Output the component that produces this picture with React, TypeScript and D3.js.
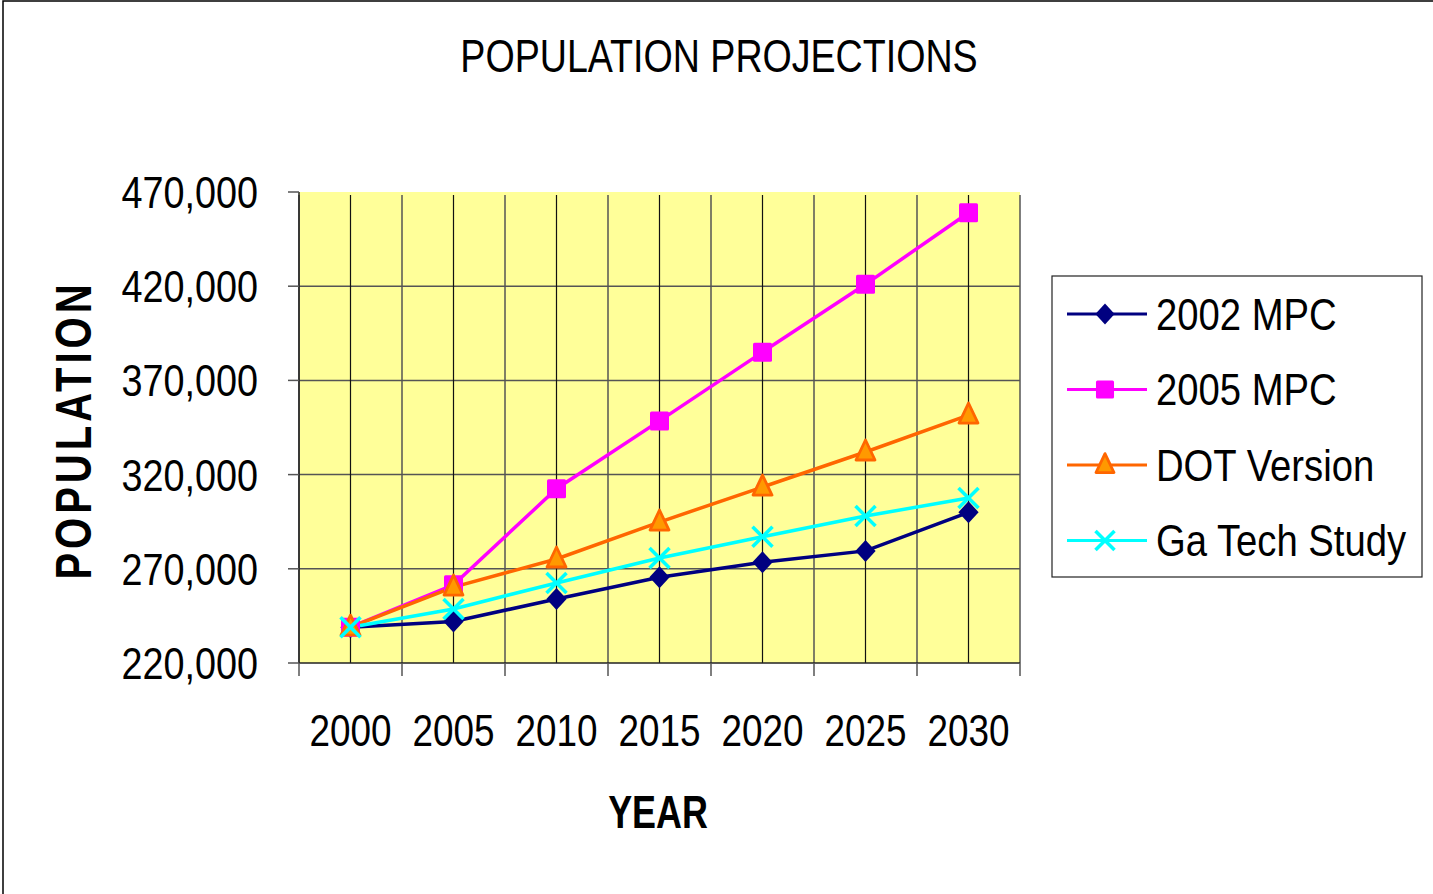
import React from "react";
import * as d3 from "d3";

const years = ["2000", "2005", "2010", "2015", "2020", "2025", "2030"];
const mpc2002 = [239000, 242000, 254000, 265500, 273500, 279500, 300000];
const mpc2005 = [239000, 261500, 312500, 348500, 385000, 421000, 459000];
const dotVersion = [239000, 260300, 275200, 294800, 313400, 332000, 351600];
const gaTech = [239000, 248700, 262500, 275700, 287000, 298000, 307600];
const yTicks = [220000, 270000, 320000, 370000, 420000, 470000];

const seriesNames = ["2002 MPC", "2005 MPC", "DOT Version", "Ga Tech Study"];
const seriesData = [mpc2002, mpc2005, dotVersion, gaTech];
const seriesColors = ["#000080", "#FF00FF", "#FF6600", "#00FFFF"];
const seriesMarkers = ["diamond", "square", "triangle", "x"];

const W = 1433;
const H = 894;
const L = 299, R = 1020, T = 192, B = 663;

function Marker({ type, x, y, k = 1 }: { type: string; x: number; y: number; k?: number }) {
  if (type === "diamond") {
    const s = 11 * k;
    return <path d={`M${x},${y - s}L${x + s * 0.92},${y}L${x},${y + s}L${x - s * 0.92},${y}Z`} fill="#000080" />;
  }
  if (type === "square") {
    const s = 9.5 * k;
    return <rect x={x - s} y={y - s} width={2 * s} height={2 * s} rx={1.5} fill="#FF00FF" />;
  }
  if (type === "triangle") {
    return (
      <path
        d={`M${x},${y - 12 * k}L${x + 9.5 * k},${y + 8 * k}L${x - 9.5 * k},${y + 8 * k}Z`}
        fill="#FF9900"
        stroke="#FF6600"
        strokeWidth={2.8}
        strokeLinejoin="round"
      />
    );
  }
  const s = 10 * k;
  return (
    <g stroke="#00FFFF" strokeWidth={3.5}>
      <line x1={x - s} y1={y - s} x2={x + s} y2={y + s} />
      <line x1={x - s} y1={y + s} x2={x + s} y2={y - s} />
    </g>
  );
}

function sx(cx: number, s: number) {
  return `translate(${cx},0) scale(${s},1) translate(${-cx},0)`;
}

export default function App() {
  const x = d3.scaleBand<string>().domain(years).range([L, R]).paddingInner(0).paddingOuter(0);
  const y = d3.scaleLinear().domain([220000, 470000]).range([B, T]);
  const cx = (d: string) => (x(d) as number) + x.bandwidth() / 2;
  const line = d3
    .line<number>()
    .x((_, i) => cx(years[i]))
    .y((v) => y(v));
  const fmt = d3.format(",");
  const bounds = years.map((d) => x(d) as number).concat([R]);
  const font = "Liberation Sans, Arial, sans-serif";

  return (
    <svg
      width={W}
      height={H}
      style={{ position: "absolute", left: 0, top: 0, display: "block" }}
      fontFamily={font}
    >
      <rect x={0} y={0} width={W} height={H} fill="#fff" />
      <rect x={3} y={1} width={W + 10} height={H + 10} fill="none" stroke="#000" strokeWidth={1.5} />
      <text x={719} y={72} textAnchor="middle" fontSize={47} transform={sx(719, 0.8)}>
        POPULATION PROJECTIONS
      </text>
      <rect x={L} y={T} width={R - L} height={B - T} fill="#FFFF99" />
      {yTicks.slice(1, -1).map((t) => (
        <line key={t} x1={L} x2={R} y1={y(t)} y2={y(t)} stroke="#555" strokeWidth={1.5} />
      ))}
      {bounds.map((b, i) => (
        <line key={"b" + i} x1={b} x2={b} y1={T + 3} y2={B} stroke="#555" strokeWidth={1.5} />
      ))}
      {years.map((d) => (
        <line key={"c" + d} x1={cx(d)} x2={cx(d)} y1={T + 3} y2={B} stroke="#111" strokeWidth={1.2} />
      ))}
      <line x1={L} x2={L} y1={T} y2={B} stroke="#222" strokeWidth={1.5} />
      <line x1={L} x2={R} y1={B} y2={B} stroke="#222" strokeWidth={1.5} />
      {yTicks.map((t) => (
        <g key={"yt" + t}>
          <line x1={L - 11} x2={L} y1={y(t)} y2={y(t)} stroke="#555" strokeWidth={1.5} />
          <text x={258} y={y(t) + 16} textAnchor="end" fontSize={45} transform={sx(258, 0.84)}>
            {fmt(t)}
          </text>
        </g>
      ))}
      {bounds.map((b, i) => (
        <line key={"xt" + i} x1={b} x2={b} y1={B} y2={B + 13} stroke="#555" strokeWidth={1.5} />
      ))}
      {years.map((d) => (
        <text key={"xl" + d} x={cx(d)} y={746} textAnchor="middle" fontSize={45} transform={sx(cx(d), 0.82)}>
          {d}
        </text>
      ))}
      <text x={658} y={828} textAnchor="middle" fontSize={46} fontWeight="bold" transform={sx(658, 0.78)}>
        YEAR
      </text>
      <g transform="translate(91,430) rotate(-90)">
        <text
          x={0}
          y={0}
          textAnchor="middle"
          fontSize={50}
          fontWeight="bold"
          letterSpacing={5}
          transform="scale(0.8,1)"
        >
          POPULATION
        </text>
      </g>
      {seriesData.map((s, k) => (
        <path key={"l" + k} d={line(s) as string} fill="none" stroke={seriesColors[k]} strokeWidth={3.5} />
      ))}
      {seriesData.map((s, k) => (
        <g key={"m" + k}>
          {s.map((v, i) => (
            <Marker key={i} type={seriesMarkers[k]} x={cx(years[i])} y={y(v)} />
          ))}
        </g>
      ))}
      <rect x={1052} y={276} width={370} height={301} fill="#fff" stroke="#222" strokeWidth={1.2} />
      {seriesNames.map((n, k) => {
        const ly = 314 + k * 75.5;
        return (
          <g key={"lg" + k}>
            <line x1={1067} x2={1147} y1={ly} y2={ly} stroke={seriesColors[k]} strokeWidth={3} />
            <Marker type={seriesMarkers[k]} x={1105} y={ly} k={0.95} />
            <text x={1156} y={ly + 16} fontSize={45} transform={sx(1156, 0.85)}>
              {n}
            </text>
          </g>
        );
      })}
    </svg>
  );
}
